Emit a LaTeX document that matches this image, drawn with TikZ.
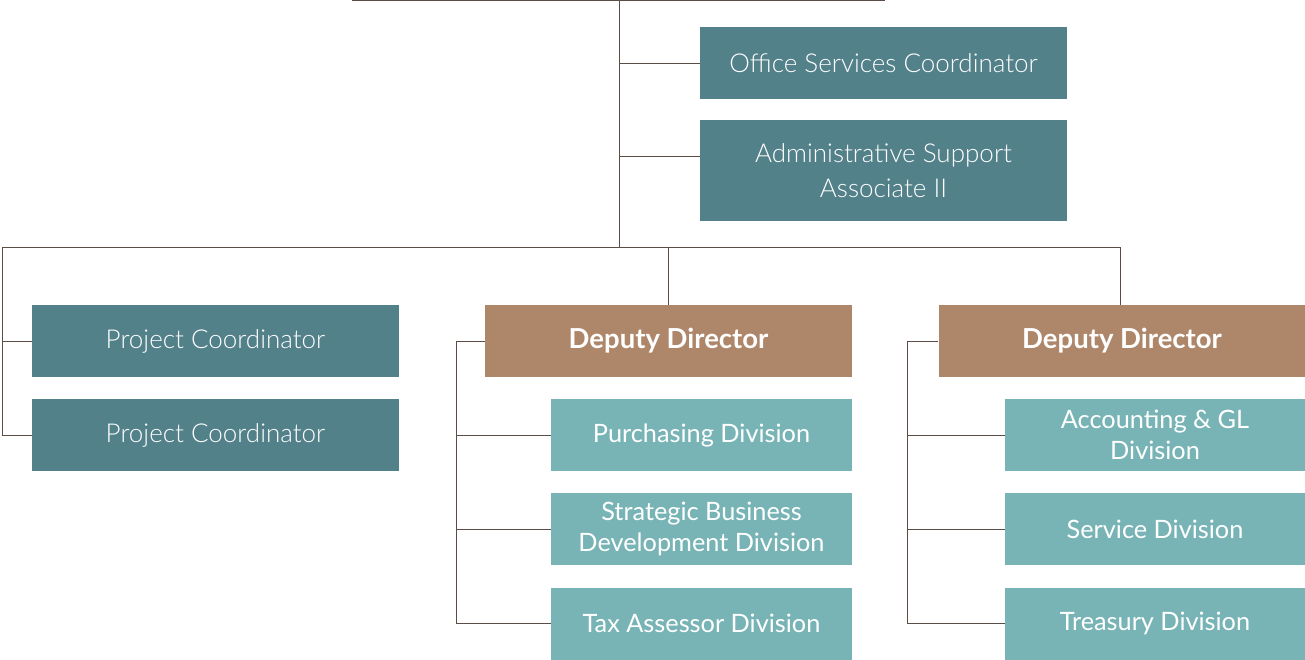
\documentclass[tikz,border=0pt]{standalone}
\usepackage{fontspec}
\setmainfont{Lato}
\newfontfamily\lightfont{Lato Light}
\definecolor{darkteal}{HTML}{53818A}
\definecolor{lightteal}{HTML}{78B4B5}
\definecolor{brownbox}{HTML}{AE876A}
\definecolor{linecol}{HTML}{5B4C45}
\tikzset{
  box/.style={inner sep=0pt, align=center, text=white},
  darkbox/.style={box, fill=darkteal, minimum width=367pt, minimum height=72pt, font=\lightfont\fontsize{26}{35}\selectfont},
  deputybox/.style={box, fill=brownbox, minimum width=367pt, minimum height=72pt, font=\bfseries\fontsize{27.5}{30}\selectfont},
  divbox/.style={box, fill=lightteal, minimum width=301pt, minimum height=72pt, font=\fontsize{25.3}{31}\selectfont},
  conn/.style={draw=linecol, line width=1pt},
}
\begin{document}
\begin{tikzpicture}[x=1pt,y=-1pt]
\useasboundingbox (0,0) rectangle (1305,659);
% top row
\node[darkbox] (osc) at (883.5,63) {Office Services Coordinator};
\node[darkbox, minimum height=101pt] (asa) at (883.5,170.5) {Administrative Support\\Associate II};
% project coordinators
\node[darkbox] (pc1) at (215.5,341) {Project Coordinator};
\node[darkbox] (pc2) at (215.5,435) {Project Coordinator};
% deputy directors
\node[deputybox] (dd1) at (668.5,341) {Deputy Director};
\node[deputybox] (dd2) at (1122,341) {Deputy Director};
% divisions 1
\node[divbox] (pur) at (701.5,435) {Purchasing Division};
\node[divbox] (sbd) at (701.5,529) {Strategic Business\\Development Division};
\node[divbox] (tax) at (701.5,623.5) {Tax Assessor Division};
% divisions 2
\node[divbox, minimum width=300pt] (acc) at (1155,435) {Accounting \& GL\\Division};
\node[divbox, minimum width=300pt] (ser) at (1155,529) {Service Division};
\node[divbox, minimum width=300pt] (tre) at (1155,623.5) {Treasury Division};
% coordinates
\coordinate (topL) at (352,0.6);
\coordinate (topR) at (885,0.6);
\coordinate (top) at (619,0.6);
\coordinate (bus) at (619,247);
\coordinate (busL) at (2,247);
\coordinate (busR) at (1120,247);
\coordinate (d1L) at (456,341);
\coordinate (d2L) at (907,341);
% connectors
\draw[conn] (topL) -- (topR);
\draw[conn] (top) -- (bus);
\draw[conn] (top) |- (osc.west);
\draw[conn] (top) |- ([yshift=14pt]asa.west);
\draw[conn] (busL) -- (busR);
\draw[conn] (busL) |- (pc1.west);
\draw[conn] (busL) |- (pc2.west);
\draw[conn] (dd1.north) -- (dd1.north |- bus);
\draw[conn] (busR) -- (busR |- dd2.north);
\draw[conn] (d1L) -- (dd1.west);
\draw[conn] (d1L) |- (pur.west);
\draw[conn] (d1L) |- (sbd.west);
\draw[conn] (d1L) |- (tax.west);
\draw[conn] (d2L) -- (dd2.west);
\draw[conn] (d2L) |- (acc.west);
\draw[conn] (d2L) |- (ser.west);
\draw[conn] (d2L) |- (tre.west);
\end{tikzpicture}
\end{document}
